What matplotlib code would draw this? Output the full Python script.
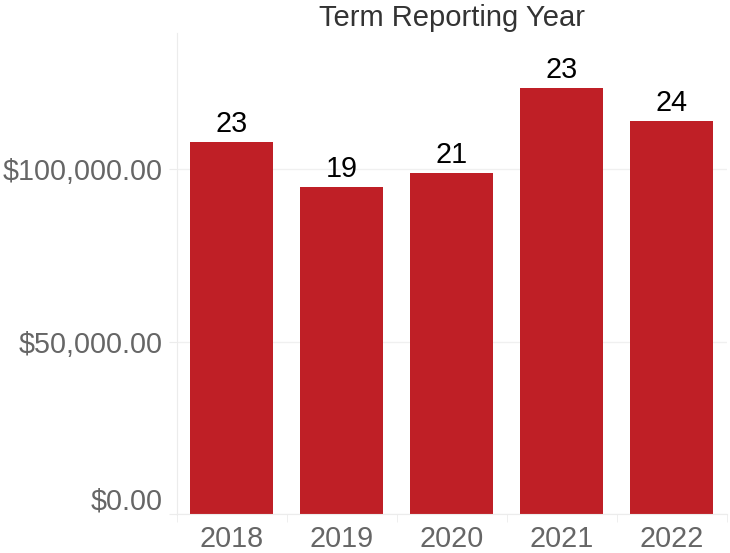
import matplotlib.pyplot as plt
import matplotlib.transforms as mtransforms
from matplotlib.ticker import FuncFormatter, FixedLocator

plt.rcParams["font.family"] = ["Liberation Sans", "DejaVu Sans"]

# total amount per term reporting year, with the record count shown above each bar
years = ["2018", "2019", "2020", "2021", "2022"]
amounts = [107900, 94900, 98900, 123600, 114000]
counts = [23, 19, 21, 23, 24]

BAR_COLOR = "#BF1F26"
LIGHT = "#ECECEC"
FS = 20.7

fig = plt.figure(figsize=(7.30, 5.53), dpi=100)
ax = fig.add_axes([0.242, 0.070, 0.7535, 0.870])

x = list(range(len(years)))
ax.bar(x, amounts, width=0.755, color=BAR_COLOR, zorder=2)

for xi, amt, n in zip(x, amounts, counts):
    ax.annotate(str(n), (xi, amt), xytext=(0, 3), textcoords="offset points",
                ha="center", va="bottom", fontsize=FS, color="black")

ax.set_xlim(-0.5, len(years) - 0.5)
ax.set_ylim(0, 139500)

ax.set_yticks([0, 50000, 100000])
ax.yaxis.set_major_formatter(FuncFormatter(lambda v, p: f"${v:,.2f}"))
ax.set_xticks(x)
ax.set_xticklabels(years)
ax.xaxis.set_minor_locator(FixedLocator([i - 0.5 for i in range(len(years) + 1)]))

ax.tick_params(axis="y", length=6, color=LIGHT, labelsize=FS, labelcolor="#666666", pad=4)
ax.tick_params(axis="x", which="major", length=0, labelsize=FS, labelcolor="#666666", pad=8)
ax.tick_params(axis="x", which="minor", length=6, color=LIGHT)

ax.grid(axis="y", color="#F0F0F0", linewidth=1, zorder=0)
for side in ("top", "right"):
    ax.spines[side].set_visible(False)
ax.spines["left"].set_color(LIGHT)
ax.spines["bottom"].set_color(LIGHT)

# lift the $0.00 label so it sits above the baseline
zero_label = ax.get_yticklabels()[0]
zero_label.set_transform(zero_label.get_transform() +
                         mtransforms.ScaledTranslation(0, 16 / 100, fig.dpi_scale_trans))

fig.text(0.242 + 0.7535 / 2, 1 - 18 / 553, "Term Reporting Year", ha="center", va="center",
         fontsize=21, color="#333333")

fig.savefig("out.png", dpi=100, facecolor="white")
